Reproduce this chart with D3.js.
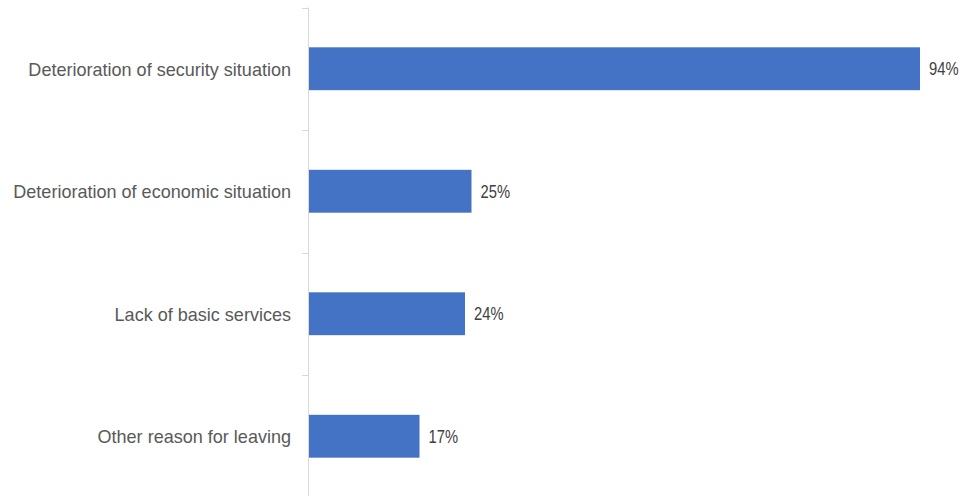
<!DOCTYPE html>
<html>
<head>
<meta charset="utf-8">
<script src="https://cdn.jsdelivr.net/npm/d3@7"></script>
<style>
  html, body { margin: 0; padding: 0; background: #fff; }
  svg { display: block; }
</style>
</head>
<body>
<svg id="chart" width="962" height="496"></svg>
<script>
// Reasons for leaving, share of respondents (%)
const categories = [
  "Deterioration of security situation",
  "Deterioration of economic situation",
  "Lack of basic services",
  "Other reason for leaving"
];
const values = [94, 25, 24, 17];
const valueLabels = ["94%", "25%", "24%", "17%"];

const svg = d3.select("#chart");
const W = 962, H = 496;
const axisX = 309;

const x = d3.scaleLinear().domain([0, 100]).range([axisX, 959]);
const y = d3.scaleBand().domain(categories).range([7.5, 497.5]).paddingInner(0.65).paddingOuter(0.325);

// Category axis line and boundary ticks
const bandStep = y.step();
const boundaries = d3.range(categories.length + 1).map(i => 7.5 + i * bandStep);
svg.append("line")
  .attr("x1", axisX - 0.5).attr("x2", axisX - 0.5)
  .attr("y1", 7.5).attr("y2", H)
  .attr("stroke", "#d9d9d9").attr("stroke-width", 1);
svg.selectAll(".tick-mark").data(boundaries).enter().append("line")
  .attr("class", "tick-mark")
  .attr("x1", axisX - 7).attr("x2", axisX - 0.5)
  .attr("y1", d => Math.round(d) + 0.5).attr("y2", d => Math.round(d) + 0.5)
  .attr("stroke", "#d9d9d9").attr("stroke-width", 1);

// Bars
svg.selectAll(".bar").data(values).enter().append("rect")
  .attr("class", "bar")
  .attr("x", x(0))
  .attr("y", (d, i) => y(categories[i]))
  .attr("width", d => x(d) - x(0))
  .attr("height", y.bandwidth())
  .attr("fill", "#4472C4");

// Category labels (slightly condensed)
svg.selectAll(".cat").data(categories).enter().append("g")
  .attr("class", "cat")
  .attr("transform", d => `translate(291,${y(d) + y.bandwidth() / 2}) scale(0.95,1)`)
  .append("text")
  .attr("dy", "0.36em")
  .attr("text-anchor", "end")
  .attr("font-family", "'Liberation Sans', Arial, sans-serif")
  .attr("font-size", 19)
  .attr("fill", "#595959")
  .text(d => d);

// Value labels (narrow)
svg.selectAll(".val").data(values).enter().append("g")
  .attr("class", "val")
  .attr("transform", (d, i) => `translate(${x(d) + 9},${y(categories[i]) + y.bandwidth() / 2}) scale(0.82,1)`)
  .append("text")
  .attr("dy", "0.36em")
  .attr("font-family", "'Liberation Sans', Arial, sans-serif")
  .attr("font-size", 18)
  .attr("fill", "#404040")
  .text((d, i) => valueLabels[i]);
</script>
</body>
</html>
